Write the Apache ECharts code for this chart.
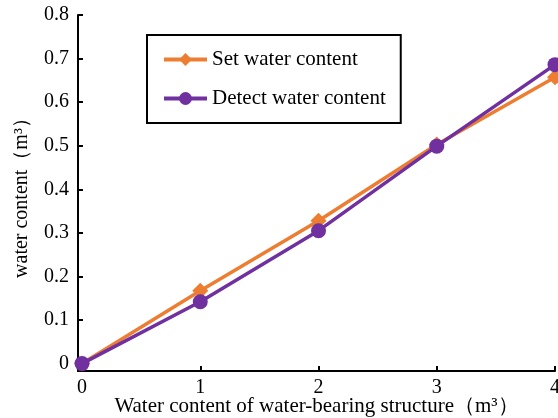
<!DOCTYPE html>
<html>
<head>
<meta charset="utf-8">
<script src="https://cdn.jsdelivr.net/npm/echarts@6/dist/echarts.min.js"></script>
<style>
html,body{margin:0;padding:0;background:#fff;}
#chart{width:558px;height:418px;}
</style>
</head>
<body>
<div id="chart"></div>
<script>
var xValues = [0, 1, 2, 3, 4];
var setWater = [0, 0.167, 0.328, 0.503, 0.657];
var detectWater = [0, 0.142, 0.305, 0.499, 0.686];
var xTicks = [0, 1, 2, 3, 4];
var yTicks = [0, 0.1, 0.2, 0.3, 0.4, 0.5, 0.6, 0.7, 0.8];
var seriesNames = ['Set water content', 'Detect water content'];

var FONT = '"Liberation Serif", "Times New Roman", serif';
var chart = echarts.init(document.getElementById('chart'), null, {renderer: 'canvas'});
function pairs(xs, ys) { return xs.map(function (x, i) { return [x, ys[i]]; }); }
var option = {
  backgroundColor: '#fff',
  animation: false,
  grid: {left: 78, right: 3, top: 15, bottom: 47, containLabel: false, outerBoundsMode: 'none'},
  legend: {
    orient: 'vertical',
    left: 147, top: 35,
    padding: [14, 15, 14, 15],
    itemGap: 18,
    itemWidth: 43, itemHeight: 16,
    borderColor: '#000', borderWidth: 2,
    lineStyle: {width: 4},
    data: seriesNames,
    textStyle: {fontFamily: FONT, fontSize: 21, color: '#000'}
  },
  xAxis: {
    type: 'value', min: -0.034, max: 4,
    name: 'Water content of water-bearing structure（m³）',
    nameLocation: 'middle', nameGap: 25, nameMoveOverlap: false,
    nameTextStyle: {fontFamily: FONT, fontSize: 21, color: '#000'},
    axisLine: {show: true, onZero: false, lineStyle: {color: '#000', width: 2}},
    axisTick: {show: true, inside: true, length: 5, lineStyle: {color: '#000', width: 2}, customValues: xTicks},
    axisLabel: {fontFamily: FONT, fontSize: 20, color: '#000', margin: 7, customValues: xTicks},
    splitLine: {show: false}
  },
  yAxis: {
    type: 'value', min: -0.017, max: 0.8,
    name: 'water content（m³）',
    nameLocation: 'middle', nameGap: 46, nameRotate: 90, nameMoveOverlap: false,
    nameTextStyle: {fontFamily: FONT, fontSize: 20, color: '#000'},
    axisLine: {show: true, onZero: false, lineStyle: {color: '#000', width: 2}},
    axisTick: {show: true, inside: true, length: 5, lineStyle: {color: '#000', width: 2}, customValues: yTicks},
    axisLabel: {fontFamily: FONT, fontSize: 20, color: '#000', margin: 9, customValues: yTicks},
    splitLine: {show: false}
  },
  series: [
    {
      name: seriesNames[0], type: 'line', data: pairs(xValues, setWater),
      symbol: 'diamond', symbolSize: 16,
      lineStyle: {color: '#ED7D31', width: 3.5},
      itemStyle: {color: '#ED7D31'}
    },
    {
      name: seriesNames[1], type: 'line', data: pairs(xValues, detectWater),
      symbol: 'circle', symbolSize: 15,
      lineStyle: {color: '#7030A0', width: 3.5},
      itemStyle: {color: '#7030A0'}
    }
  ]
};
chart.setOption(option);
</script>
</body>
</html>
